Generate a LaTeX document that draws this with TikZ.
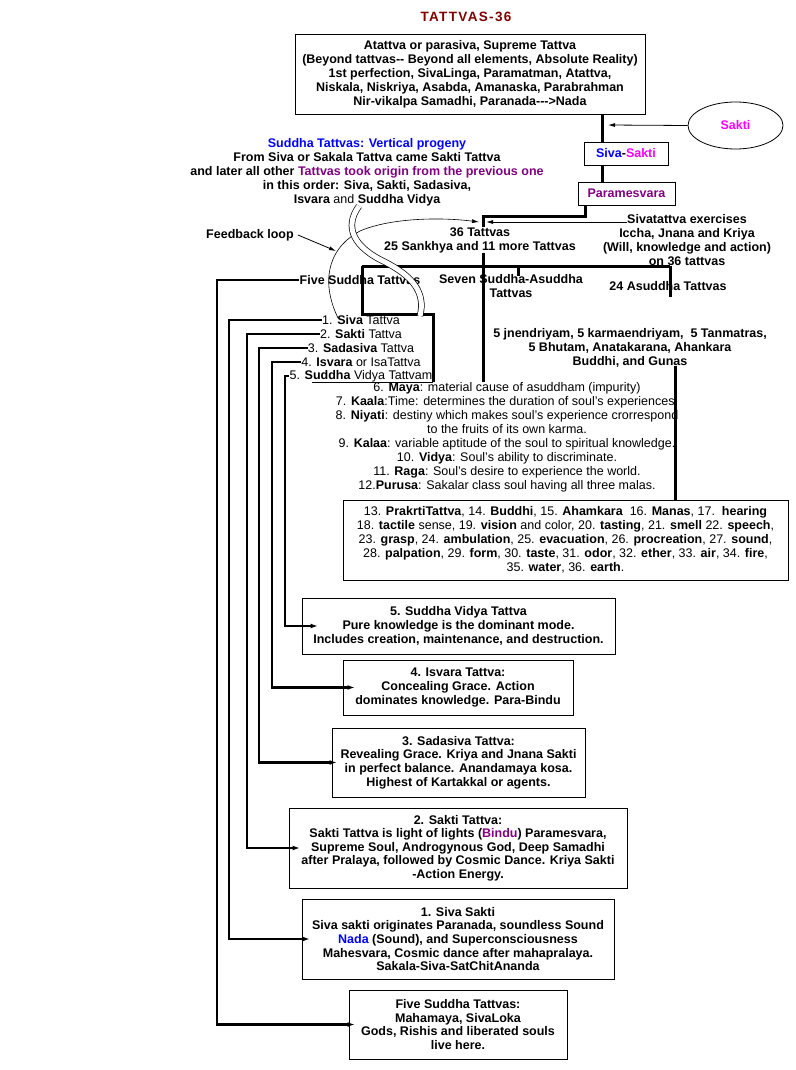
\documentclass[tikz,border=0pt]{standalone}
\usepackage{fontspec}
\setmainfont{Liberation Sans}
\usetikzlibrary{arrows.meta,shapes.geometric,calc}
\definecolor{tred}{HTML}{800000}
\definecolor{tblue}{HTML}{0000FF}
\definecolor{tmag}{HTML}{FF00FF}
\definecolor{tpur}{HTML}{800080}
\newcommand\myfs{\fontsize{12.5}{14}\selectfont}
\newcommand\myfsb{\fontsize{12.5}{13.6}\selectfont}
\newcommand\mdt[1]{{\mdseries #1}}
\newcommand\bft[1]{{\bfseries #1}}
\begin{document}
\begin{tikzpicture}[x=1pt,y=-1pt,
  every node/.style={inner sep=0pt, font=\myfs\bfseries, align=center},
  box/.style={draw, line width=0.8pt},
  lbox/.style={draw, line width=0.8pt, font=\myfsb\bfseries},
  heavy/.style={line width=3pt},
  leadline/.style={line width=2.4pt, -{Latex[length=7pt,width=5pt]}},
  thinarrow/.style={line width=0.8pt, -{Latex[length=7pt,width=4pt]}},
  plain/.style={font=\myfs\mdseries}
]
\useasboundingbox (0,0) rectangle (795,1070);

% ---- nodes ----
\node[text=tred, font=\fontsize{13.5}{15}\selectfont\bfseries\addfontfeature{LetterSpace=10}] (title) at (466,17) {TATTVAS-36};
\node[box, minimum width=350pt, minimum height=80pt] (top) at (470,74)
 {Atattva or parasiva, Supreme Tattva\\(Beyond tattvas-{}- Beyond all elements, Absolute Reality)\\1st perfection, SivaLinga, Paramatman, Atattva,\\Niskala, Niskriya, Asabda, Amanaska, Parabrahman\\Nir-vikalpa Samadhi, Paranada-{}-{}->Nada};
\node[draw, ellipse, line width=0.8pt, minimum width=95pt, minimum height=47pt, text=tmag] (sakti) at (735.5,125.5) {Sakti};
\node[box, minimum width=84pt, minimum height=23pt] (ss) at (626,153.5) {\textcolor{tblue}{Siva}-\textcolor{tmag}{Sakti}};
\node[box, minimum width=97pt, minimum height=23pt, text=tpur] (param) at (626.5,193.5) {Paramesvara};

\node (sud) at (367,172) {\textcolor{tblue}{Suddha Tattvas: Vertical progeny}\\From Siva or Sakala Tattva came Sakti Tattva\\and later all other \textcolor{tpur}{Tattvas took origin from the previous one}\\in this order: Siva, Sakti, Sadasiva,\\Isvara \mdt{and} Suddha Vidya};
\node (t36) at (480,240) {36 Tattvas\\25 Sankhya and 11 more Tattvas};
\node (sivat) at (687,240) {Sivatattva exercises\\Iccha, Jnana and Kriya\\(Will, knowledge and action)\\on 36 tattvas};
\node (fbl) at (250,235) {Feedback loop};
\node (five) at (360,280) {Five Suddha Tattvas};
\node (seven) at (511,286) {Seven Suddha-Asuddha\\Tattvas};
\node (asud) at (668,286) {24 Asuddha Tattvas};
\node (jn) at (630,348) {5 jnendriyam, 5 karmaendriyam,\ \ 5 Tanmatras,\\5 Bhutam, Anatakarana, Ahankara\\Buddhi, and Gunas};

\node (i1) at (361,320) {\mdt{1.} Siva \mdt{Tattva}};
\node (i2) at (361,334) {\mdt{2.} Sakti \mdt{Tattva}};
\node (i3) at (361,348) {\mdt{3.} Sadasiva \mdt{Tattva}};
\node (i4) at (361,362) {\mdt{4.} Isvara \mdt{or IsaTattva}};
\node (i5) at (361,376) {\mdt{5.} Suddha \mdt{Vidya Tattvam}};

\node[plain] (maya) at (507,437) {6. \bft{Maya}: material cause of asuddham (impurity)\\
7. \bft{Kaala}:Time: determines the duration of soul's experiences.\\
8. \bft{Niyati}: destiny which makes soul's experience crorrespond\\
to the fruits of its own karma.\\
9. \bft{Kalaa}: variable aptitude of the soul to spiritual knowledge.\\
10. \bft{Vidya}: Soul's ability to discriminate.\\
11. \bft{Raga}: Soul's desire to experience the world.\\
12.\bft{Purusa}: Sakalar class soul having all three malas.};

\node[box, plain, minimum width=445pt, minimum height=80pt] (b13) at (565.5,540)
 {13. \bft{PrakrtiTattva}, 14. \bft{Buddhi}, 15. \bft{Ahamkara}\ \ 16. \bft{Manas}, 17.\ \ \bft{hearing}\\
18. \bft{tactile} sense, 19. \bft{vision} and color, 20. \bft{tasting}, 21. \bft{smell} 22. \bft{speech},\\
23. \bft{grasp}, 24. \bft{ambulation}, 25. \bft{evacuation}, 26. \bft{procreation}, 27. \bft{sound},\\
28. \bft{palpation}, 29. \bft{form}, 30. \bft{taste}, 31. \bft{odor}, 32. \bft{ether}, 33. \bft{air}, 34. \bft{fire},\\
35. \bft{water}, 36. \bft{earth}.};

\node[lbox, minimum width=313pt, minimum height=56pt] (b5) at (458.5,626)
 {5. Suddha Vidya Tattva\\Pure knowledge is the dominant mode.\\Includes creation, maintenance, and destruction.};
\node[lbox, minimum width=230pt, minimum height=55pt] (b4) at (458,687.5)
 {4. Isvara Tattva:\\Concealing Grace. Action\\dominates knowledge. Para-Bindu};
\node[lbox, minimum width=253pt, minimum height=69pt] (b3) at (458.5,762.5)
 {3. Sadasiva Tattva:\\Revealing Grace. Kriya and Jnana Sakti\\in perfect balance. Anandamaya kosa.\\Highest of Kartakkal or agents.};
\node[lbox, minimum width=338pt, minimum height=80pt] (b2) at (458,848)
 {2. Sakti Tattva:\\Sakti Tattva is light of lights (\textcolor{tpur}{Bindu}) Paramesvara,\\Supreme Soul, Androgynous God, Deep Samadhi\\after Pralaya, followed by Cosmic Dance. Kriya Sakti\\-Action Energy.};
\node[lbox, minimum width=312pt, minimum height=80pt] (b1) at (458,939)
 {1. Siva Sakti\\Siva sakti originates Paranada, soundless Sound\\\textcolor{tblue}{Nada} (Sound), and Superconsciousness\\Mahesvara, Cosmic dance after mahapralaya.\\Sakala-Siva-SatChitAnanda};
\node[lbox, minimum width=218pt, minimum height=69pt] (fbox) at (458,1024.5)
 {Five Suddha Tattvas:\\Mahamaya, SivaLoka\\Gods, Rishis and liberated souls\\live here.};

% ---- coordinates ----
\coordinate (cx1) at (602,0);
\coordinate (pa) at (585,216);
\coordinate (pb) at (483,216);
\coordinate (hl) at (362,266);
\coordinate (hr) at (670,266);
\coordinate (hm) at (483,266);
\coordinate (mb) at (483,382);
\coordinate (tk) at (518,266);
\coordinate (tke) at (518,276);
\coordinate (fa) at (362,314);
\coordinate (fb) at (433,314);
\coordinate (fc) at (433,382);
\coordinate (fd) at (312,382);
\coordinate (ru) at (670,297);
\coordinate (rv) at (675,366);
\coordinate (sa) at (608,125);
\coordinate (s1) at (627,222);
\coordinate (s2) at (486,222);
\coordinate (f1) at (338,318);
\coordinate (f2) at (479,222);
\coordinate (fl) at (336,251);
\coordinate (d1) at (359,206);
\coordinate (d2) at (420,316);
\coordinate (c0) at (217,0);
\coordinate (c1) at (229,0);
\coordinate (c2) at (247,0);
\coordinate (c3) at (259,0);
\coordinate (c4) at (272,0);
\coordinate (c5) at (285,0);

% ---- connectors ----
\draw[heavy] (top.south -| cx1) -- (ss.north -| cx1);
\draw[heavy] (ss.south -| cx1) -- (param.north -| cx1);
\draw[heavy] (param.south -| pa) -- (pa) -- (pb) -- (t36.north -| pb);
\draw[heavy] (t36.south -| hm) -- (hm);
\draw[heavy] (hl) -- (hr);
\draw[heavy] (hm) -- (mb);
\draw[heavy] (tk) -- (tke);
\draw[heavy] (hl) -- (fa) -- (fb) -- (fc);
\draw[line width=0.8pt] (fc) -- (fd);
\draw[heavy] (hr) -- (ru);
\draw[heavy] (rv) -- (b13.north -| rv);

\draw[thinarrow] (sakti.west) -- (sa);
\draw[thinarrow] (s1) -- (s2);
\draw[thinarrow, line width=0.6pt] (f1) .. controls (322,285) and (325,250) .. (360,231) .. controls (390,218) and (440,217) .. (f2);
\draw[thinarrow] ([xshift=4pt]fbl.east) -- (fl);
\draw[line width=0.7pt, double=white, double distance=5pt] (d1) .. controls (343,228) and (355,248) .. (385,262) .. controls (412,276) and (426,292) .. (d2);

\draw[leadline] (five.west) -- (five.west -| c0) -- (c0 |- fbox.west) -- ([xshift=6pt]fbox.west);
\draw[leadline] (i1.west) -- (i1.west -| c1) -- (c1 |- b1.west) -- ([xshift=8pt]b1.west);
\draw[leadline] (i2.west) -- (i2.west -| c2) -- (c2 |- b2.west) -- ([xshift=11pt]b2.west);
\draw[leadline] (i3.west) -- (i3.west -| c3) -- (c3 |- b3.west) -- ([xshift=5pt]b3.west);
\draw[leadline] (i4.west) -- (i4.west -| c4) -- (c4 |- b4.west) -- ([xshift=12pt]b4.west);
\draw[leadline] (i5.west) -- (i5.west -| c5) -- (c5 |- b5.west) -- ([xshift=16pt]b5.west);
\end{tikzpicture}
\end{document}
